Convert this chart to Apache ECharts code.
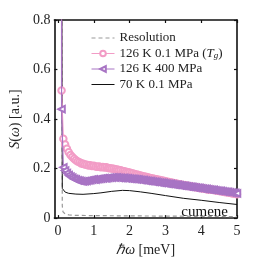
<!DOCTYPE html>
<html><head><meta charset="utf-8">
<script src="https://cdn.jsdelivr.net/npm/echarts@6/dist/echarts.min.js"></script>
<style>html,body{margin:0;padding:0;background:#fff}#c{width:262px;height:262px}</style>
</head><body><div id="c"></div>
<script>
const xTicks = [0, 1, 2, 3, 4, 5];
const yTicks = [0, 0.2, 0.4, 0.6, 0.8];
const energy = [0.1, 0.1, 0.15, 0.2, 0.25, 0.3, 0.35, 0.4, 0.45, 0.5, 0.55, 0.6, 0.65, 0.7, 0.75, 0.8, 0.85, 0.9, 0.95, 1.0,
  1.05, 1.1, 1.15, 1.2, 1.25, 1.3, 1.35, 1.4, 1.45, 1.5, 1.55, 1.6, 1.65, 1.7, 1.75, 1.8, 1.85, 1.9, 1.95, 2.0,
  2.05, 2.1, 2.15, 2.2, 2.25, 2.3, 2.35, 2.4, 2.45, 2.5, 2.55, 2.6, 2.65, 2.7, 2.75, 2.8, 2.85, 2.9, 2.95, 3.0,
  3.05, 3.1, 3.15, 3.2, 3.25, 3.3, 3.35, 3.4, 3.45, 3.5, 3.55, 3.6, 3.65, 3.7, 3.75, 3.8, 3.85, 3.9, 3.95, 4.0,
  4.05, 4.1, 4.15, 4.2, 4.25, 4.3, 4.35, 4.4, 4.45, 4.5, 4.55, 4.6, 4.65, 4.7, 4.75, 4.8, 4.85, 4.9, 4.95, 5.0];
const pinkVals = [1.2, 0.515, 0.320, 0.297, 0.280, 0.266, 0.255, 0.247, 0.240, 0.234, 0.229, 0.226, 0.221, 0.219, 0.216, 0.215, 0.212, 0.213, 0.210, 0.211,
  0.208, 0.207, 0.208, 0.205, 0.206, 0.204, 0.205, 0.202, 0.201, 0.200, 0.199, 0.197, 0.196, 0.194, 0.193, 0.190, 0.189, 0.187, 0.185, 0.184,
  0.181, 0.180, 0.177, 0.176, 0.174, 0.172, 0.170, 0.168, 0.167, 0.165, 0.163, 0.161, 0.160, 0.158, 0.157, 0.155, 0.154, 0.152, 0.151, 0.149,
  0.147, 0.146, 0.144, 0.143, 0.141, 0.140, 0.138, 0.137, 0.135, 0.134, 0.133, 0.131, 0.130, 0.129, 0.127, 0.126, 0.125, 0.124, 0.122, 0.121,
  0.120, 0.119, 0.117, 0.116, 0.115, 0.114, 0.113, 0.112, 0.110, 0.109, 0.108, 0.107, 0.105, 0.104, 0.103, 0.102, 0.100, 0.099, 0.098, 0.096];
const purpleVals = [1.2, 0.44, 0.205, 0.192, 0.182, 0.174, 0.168, 0.163, 0.158, 0.156, 0.152, 0.151, 0.149, 0.148, 0.149, 0.150, 0.152, 0.153, 0.155, 0.156,
  0.155, 0.157, 0.158, 0.159, 0.160, 0.161, 0.160, 0.162, 0.163, 0.163, 0.164, 0.163, 0.164, 0.162, 0.162, 0.161, 0.162, 0.160, 0.160, 0.159,
  0.158, 0.158, 0.157, 0.156, 0.156, 0.154, 0.153, 0.153, 0.151, 0.150, 0.149, 0.149, 0.147, 0.146, 0.146, 0.144, 0.143, 0.142, 0.142, 0.140,
  0.139, 0.138, 0.138, 0.136, 0.135, 0.134, 0.134, 0.132, 0.131, 0.130, 0.130, 0.128, 0.127, 0.126, 0.126, 0.124, 0.123, 0.122, 0.122, 0.120,
  0.119, 0.118, 0.118, 0.116, 0.115, 0.114, 0.114, 0.112, 0.111, 0.110, 0.110, 0.108, 0.107, 0.106, 0.106, 0.104, 0.103, 0.102, 0.102, 0.100];
const blackE = [0.1, 0.12, 0.15, 0.2, 0.3, 0.5, 0.7, 1.0, 1.2, 1.5, 1.8, 2.0, 2.3, 2.6, 3.0, 3.5, 4.0, 4.5, 5.0];
const blackVals = [1.5, 0.12, 0.112, 0.105, 0.100, 0.097, 0.096, 0.099, 0.102, 0.108, 0.112, 0.111, 0.106, 0.100, 0.091, 0.080, 0.072, 0.063, 0.055];
const resE = [0.1, 0.12, 0.14, 0.2, 0.3, 0.5, 1.0, 2.0, 3.0, 4.0, 5.0];
const resVals = [1.5, 0.05, 0.025, 0.017, 0.013, 0.011, 0.010, 0.009, 0.008, 0.007, 0.006];

const zip = (xs, ys) => xs.map((x, i) => [x, ys[i]]);
const serif = 'Liberation Serif';
const PINK = '#f29cc6', PURPLE = '#a874c4';
const names = ['Resolution', '126 K 0.1 MPa (Tg)', '126 K 400 MPa', '70 K 0.1 MPa'];
const hideSymbol = [true, false, false, true];

const chart = echarts.init(document.getElementById('c'));
const lineCommon = {show: true, onZero: false, lineStyle: {color: '#111', width: 1.6}};
const tickCommon = {show: true, inside: true, length: 3, lineStyle: {color: '#111', width: 1.2}};
const richName = {it: {fontFamily: serif, fontStyle: 'italic', fontSize: 14, color: '#222'}, n: {fontFamily: serif, fontSize: 14, color: '#222'}};
const legendText = {fontFamily: serif, fontSize: 13, color: '#222',
  rich: {it: {fontFamily: serif, fontStyle: 'italic', fontSize: 13, color: '#222'},
         sub: {fontFamily: serif, fontStyle: 'italic', fontSize: 9, color: '#222', verticalAlign: 'bottom', padding: [5, 0, 0, 0]},
         n: {fontFamily: serif, fontSize: 13, color: '#222'}}};
chart.setOption({
  animation: false,
  grid: {left: 43, right: 25, top: 20, bottom: 40},
  legend: names.map((n, i) => ({
    data: [hideSymbol[i] ? {name: n, itemStyle: {opacity: 0}} : n],
    orient: 'vertical', left: 91, top: 31.5 + i * 15.5, padding: 0,
    itemWidth: 23, itemHeight: 7, selectedMode: false,
    lineStyle: {width: 1},
    textStyle: legendText,
    formatter: s => s === names[1] ? '{n|126 K 0.1 MPa (}{it|T}{sub|g}{n|)}' : s
  })),
  xAxis: [
    {type: 'value', min: -0.1, max: 5, position: 'bottom',
      name: '{it|ℏω} {n|[meV]}', nameLocation: 'middle', nameGap: 21, nameTextStyle: {rich: richName},
      axisLine: lineCommon, splitLine: {show: false},
      axisTick: Object.assign({customValues: xTicks}, tickCommon),
      axisLabel: {customValues: xTicks, fontFamily: serif, fontSize: 14, color: '#222', margin: 6}},
    {type: 'value', min: -0.1, max: 5, position: 'top', axisLabel: {show: false},
      axisLine: lineCommon, splitLine: {show: false},
      axisTick: Object.assign({customValues: xTicks}, tickCommon)}
  ],
  yAxis: [
    {type: 'value', min: yTicks[0], max: yTicks[yTicks.length - 1], interval: 0.2, position: 'left',
      name: '{it|S}{n|(}{it|ω}{n|) [a.u.]}', nameLocation: 'middle', nameGap: 26, nameRotate: 90, nameTextStyle: {rich: richName},
      axisLine: lineCommon, splitLine: {show: false}, axisTick: tickCommon,
      axisLabel: {fontFamily: serif, fontSize: 14, color: '#222', margin: 4}},
    {type: 'value', min: yTicks[0], max: yTicks[yTicks.length - 1], interval: 0.2, position: 'right', axisLabel: {show: false},
      axisLine: lineCommon, splitLine: {show: false}, axisTick: tickCommon}
  ],
  series: [
    {name: names[0], type: 'line', data: zip(resE, resVals), symbol: 'none', clip: true, z: 2,
      lineStyle: {color: '#999', width: 1.2, type: [4, 3]}, itemStyle: {color: '#999'}},
    {name: names[3], type: 'line', data: zip(blackE, blackVals), symbol: 'none', clip: true, z: 3,
      lineStyle: {color: '#111', width: 1}, itemStyle: {color: '#111'}},
    {name: names[1], type: 'line', data: zip(energy, pinkVals), symbol: 'emptyCircle', symbolSize: 6.5, clip: true, z: 4,
      lineStyle: {color: PINK, width: 1.2}, itemStyle: {color: PINK, borderWidth: 1.2}},
    {name: names[2], type: 'line', data: zip(energy, purpleVals), symbol: 'emptyTriangle', symbolRotate: 90, symbolSize: 6.5, clip: true, z: 5,
      lineStyle: {color: PURPLE, width: 1.2}, itemStyle: {color: PURPLE, borderWidth: 1.2}}
  ],
  graphic: [{type: 'text', right: 34, top: 205, style: {text: 'cumene', font: '15px "Liberation Serif"', fill: '#111'}}]
});
</script></body></html>
